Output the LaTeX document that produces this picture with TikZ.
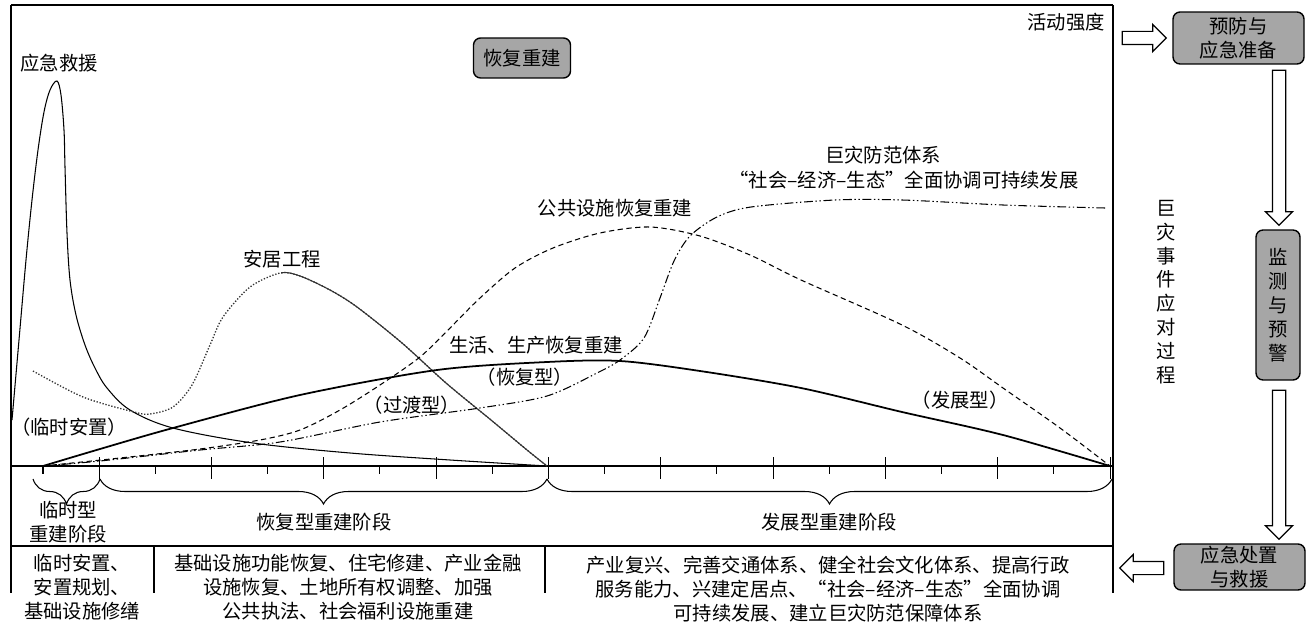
\documentclass[tikz,border=0pt]{standalone}
\usepackage{fontspec}
\setmainfont{Noto Sans CJK SC}
\usepackage{tikz}
\usetikzlibrary{decorations.pathreplacing,shapes.arrows}
\definecolor{boxgray}{HTML}{A6A6A6}
\definecolor{curvegray}{HTML}{333333}

\begin{document}
\begin{tikzpicture}[
  x=0.02cm,y=-0.02cm,
  font=\fontsize{11}{13.6}\selectfont,
  lbl/.style={inner sep=0pt,align=center},
  stagebox/.style={draw,line width=0.8pt,rounded corners=4pt,fill=boxgray,
                   inner sep=0pt,align=center},
  blockarrow/.style={draw,line width=0.7pt,fill=white,single arrow,inner xsep=0pt,
                     inner ysep=0.12cm,single arrow head extend=0.14cm},
  frame/.style={line width=0.9pt},
  thincurve/.style={line width=0.6pt},
  dashcurve/.style={line width=0.6pt,dash pattern=on 3pt off 2pt},
  dashdotcurve/.style={line width=0.6pt,
                       dash pattern=on 5pt off 1.5pt on 0.8pt off 1.5pt on 0.8pt off 1.5pt},
  stagebrace/.style={decorate,decoration={brace,mirror,amplitude=0.5cm},line width=0.6pt}
]
  \useasboundingbox (0,0) rectangle (1307,628);

  \draw[frame] (11,5) -- (1113,5);
  \draw[frame] (11,5) -- (11,593);
  \draw[frame] (1113,5) -- (1113,593);
  \draw[frame] (11,466) -- (1113,466);
  \draw[frame] (11,546) -- (1113,546);
  \draw[frame] (154,546) -- (154,593);
  \draw[frame] (545,546) -- (545,593);

  \foreach \i in {0,...,19}{
    \pgfmathsetmacro{\tx}{43+56.16*\i}
    \ifodd\i
      \draw[line width=0.6pt] (\tx,457) -- (\tx,479);
    \else
      \draw[line width=0.6pt] (\tx,466) -- (\tx,474);
    \fi
  }

  \draw[thincurve] plot[smooth,tension=0.55] coordinates {
    (12,420) (19,340) (26,260) (32,200) (38,150) (44,112) (50,90) (57,81)
    (61,95) (64,130) (65,167) (67,233) (70,280) (76,315) (85,345) (95,368)
    (107,388) (130,410) (173,428) (253,443) (350,453) (450,460) (547,466)};
  \draw[line width=0.75pt,curvegray,densely dotted] plot[smooth] coordinates {
    (33,371) (83,397) (134,412) (150,414) (173,407) (192,385) (210,345)
    (223,317) (250,287) (280,273) (300,276) (330,290) (357,307) (402,343)
    (446,383) (491,420) (527,450) (547,466)};
  \begin{scope}
    \clip (281,0) rectangle (1113,466);
    \draw[thincurve,curvegray] plot[smooth] coordinates {
      (33,371) (83,397) (134,412) (150,414) (173,407) (192,385) (210,345)
      (223,317) (250,287) (280,273) (300,276) (330,290) (357,307) (402,343)
      (446,383) (491,420) (527,450) (547,466)};
  \end{scope}
  \draw[dashcurve] plot[smooth] coordinates {
    (43,466) (120,458) (200,449) (260,440) (300,430) (340,410) (380,385)
    (420,357) (450,328) (480,298) (515,268) (553,248) (600,233) (650,227)
    (700,236) (750,255) (801,280) (902,325) (960,358) (1003,388) (1060,428)
    (1110,466)};
  \draw[dashdotcurve] plot[smooth] coordinates {
    (43,466) (100,461) (200,450) (280,442) (380,422) (480,408) (547,396)
    (597,373) (620,360) (644,338) (660,298) (674,261) (690,236) (717,217)
    (751,207) (835,200) (902,200) (1003,205) (1105,208)};
  \draw[line width=1pt] plot[smooth] coordinates {
    (43,466) (100,449) (173,428) (300,395) (437,370) (547,362) (620,361)
    (700,371) (801,388) (902,412) (1003,435) (1110,466)};

  \node[lbl] (rescue) at (59,63) {应急救援};
  \node[stagebox,minimum width=1.94cm,minimum height=0.8cm] (rebuild) at (522,58) {恢复重建};
  \node[lbl] (intensity) at (1066,22) {活动强度};
  \node[lbl] (prevent) at (883,155) {巨灾防范体系};
  \node[lbl] (coord) at (904,180) {“社会–经济–生态”全面协调可持续发展};
  \node[lbl] (public) at (615,208) {公共设施恢复重建};
  \node[lbl] (housing) at (282,259) {安居工程};
  \node[lbl] (living) at (536,345) {生活、生产恢复重建};
  \node[lbl] (restype) at (525,377) {（恢复型）};
  \node[lbl] (transtype) at (412,405) {（过渡型）};
  \node[lbl] (temptype) at (69,427) {（临时安置）};
  \node[lbl] (devtype) at (960,400) {（发展型）};

  \draw[stagebrace] (33,479) -- (100,479);
  \draw[stagebrace] (100,479) -- (547,479);
  \draw[stagebrace] (547,479) -- (1112,479);
  \node[lbl] (stagetemp) at (68,522) {临时型\\重建阶段};
  \node[lbl] (stagerest) at (324,522) {恢复型重建阶段};
  \node[lbl] (stagedev) at (829,522) {发展型重建阶段};

  \node[lbl] (celltemp) at (82,587) {临时安置、\\安置规划、\\基础设施修缮};
  \node[lbl] (cellrest) at (348,587)
    {基础设施功能恢复、住宅修建、产业金融\\设施恢复、土地所有权调整、加强\\公共执法、社会福利设施重建};
  \node[lbl] (celldev) at (828,589)
    {产业复兴、完善交通体系、健全社会文化体系、提高行政\\服务能力、兴建定居点、“社会–经济–生态”全面协调\\可持续发展、建立巨灾防范保障体系};

  \node[lbl] (process) at (1166,292) {巨\\灾\\事\\件\\应\\对\\过\\程};
  \node[stagebox,minimum width=2.62cm,minimum height=1.04cm] (prep) at (1238.5,38) {预防与\\应急准备};
  \node[stagebox,minimum width=0.88cm,minimum height=3cm] (watch) at (1278,305) {监\\测\\与\\预\\警};
  \node[stagebox,minimum width=2.62cm,minimum height=0.92cm] (respond) at (1239.5,567) {应急处置\\与救援};

  \node[blockarrow,minimum height=0.88cm] (arrprep) at (1141,38) {};
  \node[blockarrow,minimum height=3.1cm,rotate=-90] (arrwatch) at (1279,144.5) {};
  \node[blockarrow,minimum height=2.98cm,rotate=-90] (arrresp) at (1279,461.5) {};
  \node[blockarrow,minimum height=0.88cm,rotate=180] (arrback) at (1145,568) {};
\end{tikzpicture}
\end{document}
